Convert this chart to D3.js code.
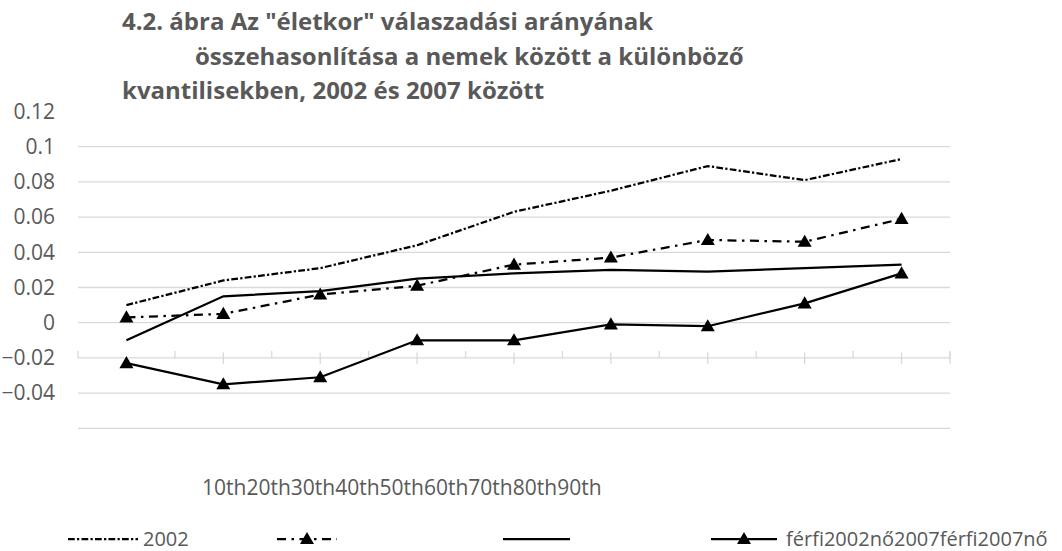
<!DOCTYPE html>
<html>
<head>
<meta charset="utf-8">
<script src="https://cdn.jsdelivr.net/npm/d3@7"></script>
<style>
  html, body { margin: 0; padding: 0; background: #fff; }
  svg { display: block; font-family: "Open Sans", "Liberation Sans", sans-serif; }
</style>
</head>
<body>
<div id="chart"></div>
<script>
const quantiles = ["10th", "20th", "30th", "40th", "50th", "60th", "70th", "80th", "90th"];
const yTickValues = [0.12, 0.1, 0.08, 0.06, 0.04, 0.02, 0, -0.02, -0.04];
const gridValues = [0.1, 0.08, 0.06, 0.04, 0.02, 0, -0.04, -0.06];
const titleLines = [
  "4.2. ábra Az \"életkor\" válaszadási arányának",
  "összehasonlítása a nemek között a különböző",
  "kvantilisekben, 2002 és 2007 között"
];

// series (legend labels as they appear in the original)
const seriesNames = ["2002", "", "", "férfi2002nő2007férfi2007nő"];
const values2002 = [0.010, 0.024, 0.031, 0.044, 0.063, 0.075, 0.089, 0.081, 0.093];
const valuesNo2002 = [0.003, 0.005, 0.016, 0.021, 0.033, 0.037, 0.047, 0.046, 0.059];
const valuesFerfi2007 = [-0.010, 0.015, 0.018, 0.025, 0.028, 0.030, 0.029, 0.031, 0.033];
const valuesNo2007 = [-0.023, -0.035, -0.031, -0.010, -0.010, -0.001, -0.002, 0.011, 0.028];

const width = 1062, height = 551;
const textColor = "#595959";
const gridColor = "#d9d9d9";

const svg = d3.select("#chart").append("svg")
  .attr("width", width)
  .attr("height", height);

const x = d3.scaleBand().domain(quantiles).range([78, 950]);
const y = d3.scaleLinear().domain([-0.06, 0.1]).range([428.3, 146.7]);

// title
const title = svg.append("text")
  .attr("fill", textColor)
  .attr("font-weight", "bold")
  .attr("font-size", 24);
titleLines.forEach((line, i) => {
  title.append("tspan")
    .attr("x", i === 1 ? 195 : 122)
    .attr("y", 30 + i * 34.5)
    .text(line);
});

// gridlines
svg.append("g")
  .selectAll("line")
  .data(gridValues)
  .join("line")
  .attr("x1", x.range()[0]).attr("x2", x.range()[1])
  .attr("y1", d => y(d)).attr("y2", d => y(d))
  .attr("stroke", gridColor)
  .attr("stroke-width", 1.3);

// y axis labels
svg.append("g")
  .selectAll("text")
  .data(yTickValues)
  .join("text")
  .attr("x", 55)
  .attr("y", d => y(d))
  .attr("dy", "0.35em")
  .attr("text-anchor", "end")
  .attr("fill", textColor)
  .attr("font-size", 21)
  .text(d => d3.format("")(d));

// horizontal axis crossing at -0.02
const axisY = y(-0.02);
const axisG = svg.append("g");
axisG.append("line")
  .attr("x1", x.range()[0]).attr("x2", x.range()[1])
  .attr("y1", axisY).attr("y2", axisY)
  .attr("stroke", gridColor).attr("stroke-width", 1.3);
const boundaries = quantiles.map(q => x(q)).concat([x.range()[1]]);
axisG.selectAll(".tick-b")
  .data(boundaries)
  .join("line")
  .attr("x1", d => d).attr("x2", d => d)
  .attr("y1", axisY - 7).attr("y2", axisY)
  .attr("stroke", gridColor).attr("stroke-width", 1.3);
axisG.selectAll(".tick-c")
  .data(quantiles.slice(1).map(q => x(q) + x.bandwidth() / 2).concat([x.range()[1]]))
  .join("line")
  .attr("x1", d => d).attr("x2", d => d)
  .attr("y1", axisY - 5.5).attr("y2", axisY + 6)
  .attr("stroke", gridColor).attr("stroke-width", 1.3);

// category labels, crammed together as in the original
const xLabels = svg.append("text")
  .attr("x", 202)
  .attr("y", 495)
  .attr("fill", textColor)
  .attr("font-size", 21);
quantiles.forEach(q => xLabels.append("tspan").text(q));

// series
const cx = q => x(q) + x.bandwidth() / 2;
const series = [
  { name: seriesNames[0], values: values2002, dash: "6.75,2.25,2.25,2.25", marker: false },
  { name: seriesNames[1], values: valuesNo2002, dash: "9,5.5,2.5,5.5", marker: true },
  { name: seriesNames[2], values: valuesFerfi2007, dash: null, marker: false },
  { name: seriesNames[3], values: valuesNo2007, dash: null, marker: true }
];

const line = d3.line()
  .x((d, i) => cx(quantiles[i]))
  .y(d => y(d));

const tri = d3.symbol().type(d3.symbolTriangle).size(85);

series.forEach(s => {
  svg.append("path")
    .datum(s.values)
    .attr("d", line)
    .attr("fill", "none")
    .attr("stroke", "#000")
    .attr("stroke-width", 2.25)
    .attr("stroke-dasharray", s.dash);
  if (s.marker) {
    svg.append("g")
      .selectAll("path")
      .data(s.values)
      .join("path")
      .attr("d", tri)
      .attr("transform", (d, i) => `translate(${cx(quantiles[i])},${y(d) + 1})`)
      .attr("fill", "#000");
  }
});

// legend
const legendY = 539;
const legendItems = [
  { x1: 68, x2: 138, textX: 143 },
  { x1: 277, x2: 337, textX: 342 },
  { x1: 503, x2: 570, textX: 575 },
  { x1: 711, x2: 777, textX: 786 }
];
const legend = svg.append("g");
series.forEach((s, i) => {
  const it = legendItems[i];
  legend.append("line")
    .attr("x1", it.x1).attr("x2", it.x2)
    .attr("y1", legendY).attr("y2", legendY)
    .attr("stroke", "#000")
    .attr("stroke-width", 2.25)
    .attr("stroke-dasharray", s.dash);
  if (s.marker) {
    legend.append("path")
      .attr("d", tri)
      .attr("transform", `translate(${(it.x1 + it.x2) / 2},${legendY + 1})`)
      .attr("fill", "#000");
  }
  if (s.name) {
    legend.append("text")
      .attr("x", it.textX)
      .attr("y", legendY)
      .attr("dy", "0.35em")
      .attr("fill", textColor)
      .attr("font-size", 20)
      .text(s.name);
  }
});
</script>
</body>
</html>
